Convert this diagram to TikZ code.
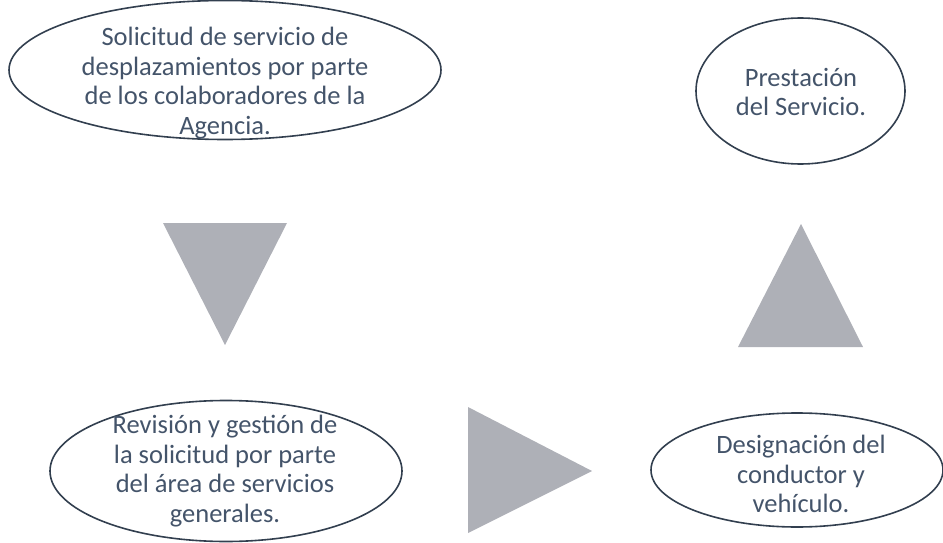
\documentclass[tikz,border=0pt]{standalone}
\usepackage{fontspec}
\setmainfont{Carlito}
\usetikzlibrary{shapes.geometric}
\definecolor{txtc}{RGB}{68,84,106}
\definecolor{linec}{RGB}{50,63,79}
\definecolor{trif}{RGB}{174,176,183}
\tikzset{
  ell/.style={ellipse, draw=linec, line width=1.6pt, inner sep=0pt},
  lbl/.style={text=txtc, align=center, font=\fontsize{26.5}{29.5}\selectfont, inner sep=0pt},
  arrowtri/.style={fill=trif, draw=none}
}
\begin{document}
\begin{tikzpicture}[x=1pt,y=-1pt]
\useasboundingbox (0,0) rectangle (943,543);
% ellipses
\node[ell, minimum width=432pt, minimum height=139pt] (e1) at (225,70) {};
\node[ell, minimum width=352pt, minimum height=141pt] (e2) at (226,471) {};
\node[ell, minimum width=292pt, minimum height=114pt] (e3) at (797,470) {};
\node[ell, minimum width=209pt, minimum height=146pt] (e4) at (800.5,91) {};
% texts
\node[lbl] (t1) at (225,83) {Solicitud de servicio de\\desplazamientos por parte\\de los colaboradores de la\\Agencia.};
\node[lbl] (t2) at (225,471) {Revisión y gestión de\\la solicitud por parte\\del área de servicios\\generales.};
\node[lbl] (t3) at (801,474) {Designación del\\conductor y\\vehículo.};
\node[lbl] (t4) at (801,92) {Prestación\\del Servicio.};
% arrow triangles
\coordinate (d1) at (163,223); \coordinate (d2) at (287,223); \coordinate (d3) at (225,345);
\coordinate (r1) at (468,407); \coordinate (r2) at (468,533); \coordinate (r3) at (592,471);
\coordinate (u1) at (738,347); \coordinate (u2) at (863,347); \coordinate (u3) at (801,224);
\fill[arrowtri] (d1) -- (d2) -- (d3) -- cycle;
\fill[arrowtri] (r1) -- (r2) -- (r3) -- cycle;
\fill[arrowtri] (u1) -- (u2) -- (u3) -- cycle;
\end{tikzpicture}
\end{document}
